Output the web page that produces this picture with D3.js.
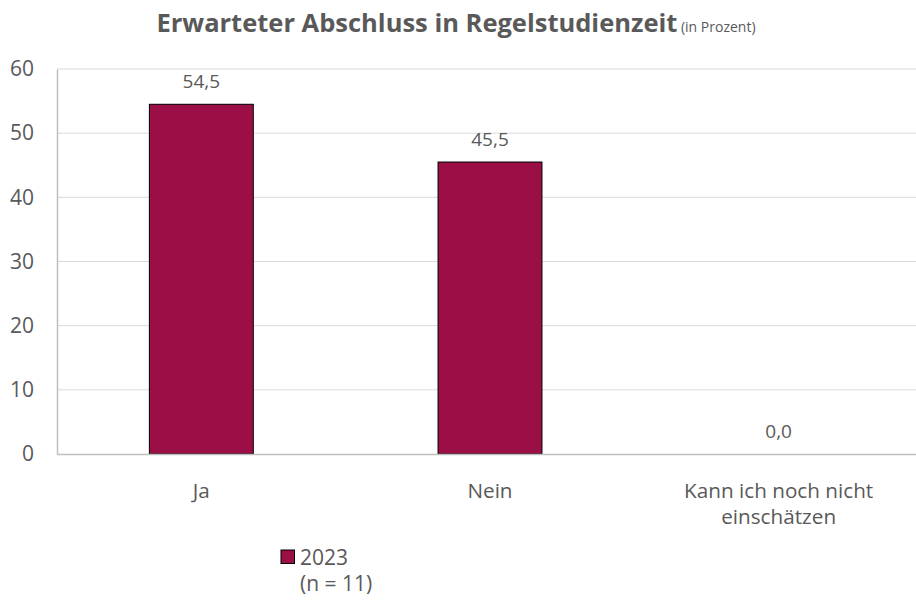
<!DOCTYPE html>
<html>
<head>
<meta charset="utf-8">
<script src="https://cdn.jsdelivr.net/npm/d3@7"></script>
<style>
  body { margin: 0; background: #fff; }
  text { font-family: "Open Sans", sans-serif; fill: #595959; }
</style>
</head>
<body>
<div id="chart"></div>
<script>
// chart data
var categories = ["Ja", "Nein", "Kann ich noch nicht einschätzen"];
var values2023 = [54.5, 45.5, 0.0];
var yTicks = [0, 10, 20, 30, 40, 50, 60];
var seriesName = "2023";
var seriesNote = "(n = 11)";

// svg size
var svgWidth = 916;
var svgHeight = 603;

var margin = { top: 69, left: 57 };
var plotWidth = 866;   // runs past the right edge, like the original
var plotHeight = 385;

var svg = d3.select("#chart")
  .append("svg")
  .attr("width", svgWidth)
  .attr("height", svgHeight);

// title
var title = svg.append("text")
  .attr("x", 456)
  .attr("y", 32)
  .attr("text-anchor", "middle");
title.append("tspan")
  .attr("font-size", 25.5)
  .attr("font-weight", "bold")
  .text("Erwarteter Abschluss in Regelstudienzeit");
title.append("tspan")
  .attr("font-size", 14)
  .text(" (in Prozent)");

var chartGroup = svg.append("g")
  .attr("transform", `translate(${margin.left}, ${margin.top})`);

// scales
var xScale = d3.scaleBand()
  .domain(categories)
  .range([0, plotWidth])
  .paddingInner(0.64)
  .paddingOuter(0.32);

var yScale = d3.scaleLinear()
  .domain([0, 60])
  .range([plotHeight, 0]);

// gridlines
chartGroup.selectAll(".grid")
  .data(yTicks.filter(d => d > 0))
  .enter()
  .append("line")
  .attr("x1", 0)
  .attr("x2", plotWidth)
  .attr("y1", d => yScale(d))
  .attr("y2", d => yScale(d))
  .attr("stroke", "#d9d9d9")
  .attr("stroke-width", 1);

// y axis
var yAxis = d3.axisLeft(yScale).tickValues(yTicks).tickSize(0).tickPadding(23);
var yAxisG = chartGroup.append("g").call(yAxis);
yAxisG.select(".domain").attr("stroke", "#bfbfbf").attr("stroke-width", 1.5);
yAxisG.selectAll("text")
  .attr("font-size", 21)
  .attr("fill", "#595959")
  .style("font-family", "'Open Sans', sans-serif");

// bars
chartGroup.selectAll(".bar")
  .data(values2023)
  .enter()
  .append("rect")
  .attr("x", (d, i) => xScale(categories[i]))
  .attr("y", d => yScale(d))
  .attr("width", xScale.bandwidth())
  .attr("height", d => plotHeight - yScale(d))
  .attr("fill", "#9b0e46")
  .attr("stroke", d => d > 0 ? "#000" : "none")
  .attr("stroke-width", 1);

// x axis line
var xAxis = d3.axisBottom(xScale).tickSize(0).tickFormat("");
var xAxisG = chartGroup.append("g")
  .attr("transform", `translate(0, ${plotHeight})`)
  .call(xAxis);
xAxisG.select(".domain").attr("stroke", "#bfbfbf").attr("stroke-width", 1.5);

// category labels, wrapped
var fmt = d3.format(".1f");
categories.forEach(function(c) {
  var lines = c === "Kann ich noch nicht einschätzen" ? ["Kann ich noch nicht", "einschätzen"] : [c];
  var t = chartGroup.append("text")
    .attr("x", xScale(c) + xScale.bandwidth() / 2)
    .attr("y", plotHeight + 44)
    .attr("text-anchor", "middle")
    .attr("font-size", 20.7);
  lines.forEach(function(l, j) {
    t.append("tspan")
      .attr("x", xScale(c) + xScale.bandwidth() / 2)
      .attr("dy", j === 0 ? 0 : 26)
      .text(l);
  });
});

// data labels
chartGroup.selectAll(".lbl")
  .data(values2023)
  .enter()
  .append("text")
  .attr("x", (d, i) => xScale(categories[i]) + xScale.bandwidth() / 2)
  .attr("y", d => yScale(d) - 16)
  .attr("text-anchor", "middle")
  .attr("font-size", 19)
  .text(d => fmt(d).replace(".", ","));

// legend
var legend = svg.append("g").attr("transform", "translate(281, 550)");
legend.append("rect")
  .attr("width", 13.5)
  .attr("height", 13.5)
  .attr("fill", "#9b0e46")
  .attr("stroke", "#000")
  .attr("stroke-width", 1);
var legendText = legend.append("text")
  .attr("x", 19)
  .attr("y", 15)
  .attr("font-size", 21);
legendText.append("tspan")
  .attr("x", 19)
  .text(seriesName);
legendText.append("tspan")
  .attr("x", 19)
  .attr("dy", 26)
  .text(seriesNote);
</script>
</body>
</html>
